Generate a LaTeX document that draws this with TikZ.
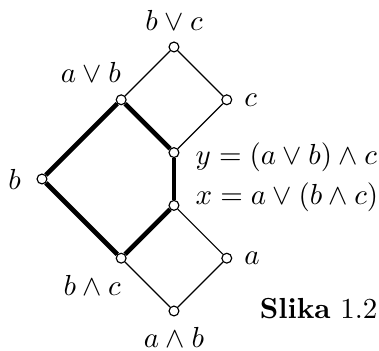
\documentclass[tikz,border=0pt]{standalone}
\usetikzlibrary{positioning, backgrounds}

\begin{document}
\begin{tikzpicture}[
    x=0.64cm, y=0.64cm,
    vertex/.style={circle, draw, fill=white, inner sep=0pt, minimum size=3.4pt, line width=0.4pt},
    lbl/.style={inner sep=0pt},
    edge/.style={line width=0.4pt},
    chain_edge/.style={line width=1.6pt}
]
    \useasboundingbox (-3.295,-0.739) rectangle (3.883,5.890);

    % Lattice elements
    \node[vertex] (bot) at (0,0) {};
    \node[vertex] (bc) at (-1,1) {};
    \node[vertex] (a) at (1,1) {};
    \node[vertex] (x) at (0,2) {};
    \node[vertex] (b) at (-2.5,2.5) {};
    \node[vertex] (y) at (0,3) {};
    \node[vertex] (ab) at (-1,4) {};
    \node[vertex] (c) at (1,4) {};
    \node[vertex] (top) at (0,5) {};

    % Element labels
    \node[lbl, above=3.5pt of top] (l_top) {$b\vee c$};
    \node[lbl, above left=4.3pt and -1.4pt of ab] (l_ab) {$a\vee b$};
    \node[lbl, right=4pt of c] (l_c) {$c$};
    \node[lbl, right=5.4pt of y, yshift=-1.7pt] (l_y) {$y=(a\vee b)\wedge c$};
    \node[lbl, right=5.4pt of x, yshift=2.8pt] (l_x) {$x=a\vee(b\wedge c)$};
    \node[lbl, left=5.2pt of b] (l_b) {$b$};
    \node[lbl, right=4pt of a] (l_a) {$a$};
    \node[lbl, below left=4.3pt and -1.4pt of bc] (l_bc) {$b\wedge c$};
    \node[lbl, below=3.7pt of bot] (l_bot) {$a\wedge b$};
    \node[lbl, anchor=base east] (caption) at (3.864,-0.133) {\textbf{Slika} 1.2};

    % Hasse diagram edges
    \begin{scope}[on background layer]
        \draw[edge] (top) -- (ab);
        \draw[edge] (top) -- (c);
        \draw[edge] (c) -- (y);
        \draw[edge] (x) -- (a);
        \draw[edge] (a) -- (bot);
        \draw[edge] (bc) -- (bot);
        % Pentagon N5
        \draw[chain_edge] (ab) -- (b);
        \draw[chain_edge] (b) -- (bc);
        \draw[chain_edge] (bc) -- (x);
        \draw[chain_edge] (x) -- (y);
        \draw[chain_edge] (y) -- (ab);
    \end{scope}

\end{tikzpicture}
\end{document}
